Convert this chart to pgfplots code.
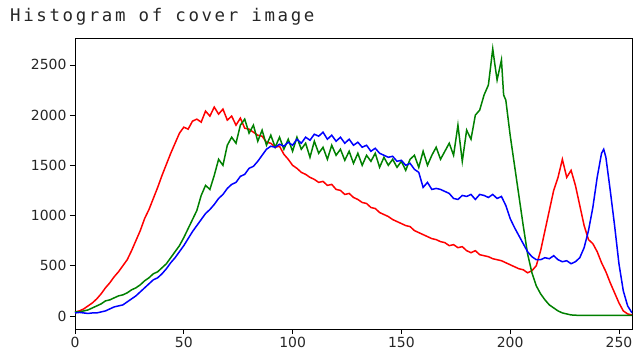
\documentclass[border=0pt]{standalone}
\usepackage{pgfplots}
\pgfplotsset{compat=1.18}
\usepackage{fontspec}
\setmainfont{DejaVu Sans}
\newfontfamily\titlefont[LetterSpace=15]{DejaVu Sans Mono}
\definecolor{mplred}{rgb}{1,0,0}
\definecolor{mplgreen}{rgb}{0,0.5,0}
\definecolor{mplblue}{rgb}{0,0,1}
\begin{document}
\begin{tikzpicture}
\begin{axis}[
  scale only axis, width=557bp, height=291bp,
  xmin=0, xmax=256, ymin=-130, ymax=2768,
  xtick={0,50,...,250}, ytick={0,500,...,2500},
  tick align=outside, tick pos=left, major tick length=5bp,
  every tick/.style={black, line width=0.8bp},
  axis line style={line width=0.8bp},
  ticklabel style={font=\fontsize{14}{16}\selectfont, text=black!85},
  /pgf/number format/assume math mode=true,
  /pgf/number format/set thousands separator={},
  scaled ticks=false,
  clip=true,
]
\addplot[mplred, line width=1.5bp] coordinates {
(0,40)(2,50)(4,70)(6,100)(8,130)(10,170)(12,220)(14,280)(16,330)(18,390)(20,440)(22,500)(24,560)(26,650)(28,750)(30,850)(32,970)(34,1060)(36,1170)(38,1280)(40,1400)(42,1510)(44,1620)(46,1720)(48,1820)(50,1880)(52,1860)(54,1940)(56,1960)(58,1930)(60,2040)(62,1990)(64,2080)(66,2010)(68,2060)(70,1950)(72,1990)(74,1900)(76,1970)(78,1870)(80,1860)(82,1830)(84,1800)(86,1790)(88,1730)(90,1720)(92,1680)(94,1690)(96,1610)(98,1560)(100,1500)(102,1470)(104,1430)(106,1410)(108,1380)(110,1360)(112,1330)(114,1340)(116,1300)(118,1310)(120,1260)(122,1250)(124,1210)(126,1220)(128,1180)(130,1160)(132,1130)(134,1120)(136,1080)(138,1070)(140,1030)(142,1010)(144,990)(146,960)(148,940)(150,920)(152,900)(154,890)(156,850)(158,830)(160,810)(162,790)(164,770)(166,760)(168,740)(170,730)(172,700)(174,710)(176,680)(178,690)(180,650)(182,630)(184,650)(186,610)(188,600)(190,590)(192,570)(194,560)(196,550)(198,530)(200,510)(202,490)(204,470)(206,460)(208,430)(210,450)(212,500)(214,650)(216,850)(218,1050)(220,1250)(222,1380)(224,1560)(226,1380)(228,1450)(230,1300)(232,1100)(234,900)(236,760)(238,720)(240,640)(242,530)(244,440)(246,330)(248,230)(250,130)(252,50)(254,20)(256,10)
};
\addplot[mplgreen, line width=1.5bp] coordinates {
(0,40)(2,40)(4,50)(6,60)(8,80)(10,100)(12,120)(14,150)(16,160)(18,180)(20,200)(22,210)(24,230)(26,260)(28,280)(30,310)(32,350)(34,380)(36,420)(38,440)(40,480)(42,520)(44,580)(46,640)(48,700)(50,780)(52,870)(54,960)(56,1050)(58,1200)(60,1300)(62,1260)(64,1400)(66,1560)(68,1500)(70,1700)(72,1780)(74,1720)(76,1900)(78,1960)(80,1820)(82,1900)(84,1740)(86,1850)(88,1700)(90,1800)(92,1680)(94,1780)(96,1660)(98,1760)(100,1640)(102,1780)(104,1660)(106,1720)(108,1580)(110,1740)(112,1620)(114,1680)(116,1560)(118,1700)(120,1600)(122,1660)(124,1550)(126,1640)(128,1520)(130,1620)(132,1500)(134,1600)(136,1540)(138,1620)(140,1480)(142,1580)(144,1500)(146,1560)(148,1480)(150,1540)(152,1450)(154,1560)(156,1600)(158,1480)(160,1640)(162,1500)(164,1600)(166,1680)(168,1560)(170,1640)(172,1720)(174,1600)(176,1900)(178,1540)(180,1850)(182,1760)(184,2000)(186,2050)(188,2200)(190,2300)(192,2660)(193,2500)(194,2350)(196,2550)(197,2200)(198,2150)(200,1800)(202,1500)(204,1200)(206,900)(208,620)(210,430)(212,300)(214,220)(216,160)(218,110)(220,80)(222,50)(224,30)(226,20)(228,10)(232,5)(256,5)
};
\addplot[mplblue, line width=1.5bp] coordinates {
(0,30)(2,35)(4,30)(6,25)(8,30)(10,30)(12,40)(14,50)(16,70)(18,90)(20,100)(22,110)(24,140)(26,170)(28,200)(30,240)(32,280)(34,320)(36,360)(38,380)(40,420)(42,470)(44,530)(46,580)(48,640)(50,700)(52,770)(54,840)(56,900)(58,960)(60,1020)(62,1060)(64,1110)(66,1170)(68,1210)(70,1270)(72,1310)(74,1330)(76,1390)(78,1410)(80,1470)(82,1490)(84,1540)(86,1600)(88,1660)(90,1690)(92,1680)(94,1710)(96,1690)(98,1730)(100,1700)(102,1760)(104,1720)(106,1780)(108,1750)(110,1810)(112,1790)(114,1830)(116,1760)(118,1800)(120,1740)(122,1780)(124,1720)(126,1760)(128,1700)(130,1730)(132,1680)(134,1700)(136,1640)(138,1670)(140,1620)(142,1600)(144,1580)(146,1590)(148,1540)(150,1550)(152,1500)(154,1520)(156,1460)(158,1430)(160,1280)(162,1330)(164,1260)(166,1270)(168,1260)(170,1240)(172,1220)(174,1170)(176,1160)(178,1200)(180,1190)(182,1210)(184,1160)(186,1210)(188,1200)(190,1180)(192,1210)(194,1170)(196,1190)(198,1100)(200,970)(202,880)(204,800)(206,720)(208,640)(210,590)(212,560)(214,560)(216,580)(218,570)(220,600)(222,560)(224,540)(226,550)(228,520)(230,540)(232,580)(234,680)(236,850)(238,1080)(240,1380)(242,1620)(243,1660)(244,1580)(246,1250)(248,900)(250,520)(252,250)(254,100)(256,30)
};
\end{axis}
\node[anchor=west, inner sep=0pt, font=\titlefont\fontsize{17.5}{20}\selectfont, text=black!85] at ([xshift=-65bp, yshift=21bp]current axis.north west) {Histogram of cover image};
\pgfresetboundingbox
\path ([xshift=-75bp, yshift=-25bp]current axis.south west) rectangle ([xshift=1bp, yshift=38bp]current axis.north east);
\end{tikzpicture}
\end{document}
